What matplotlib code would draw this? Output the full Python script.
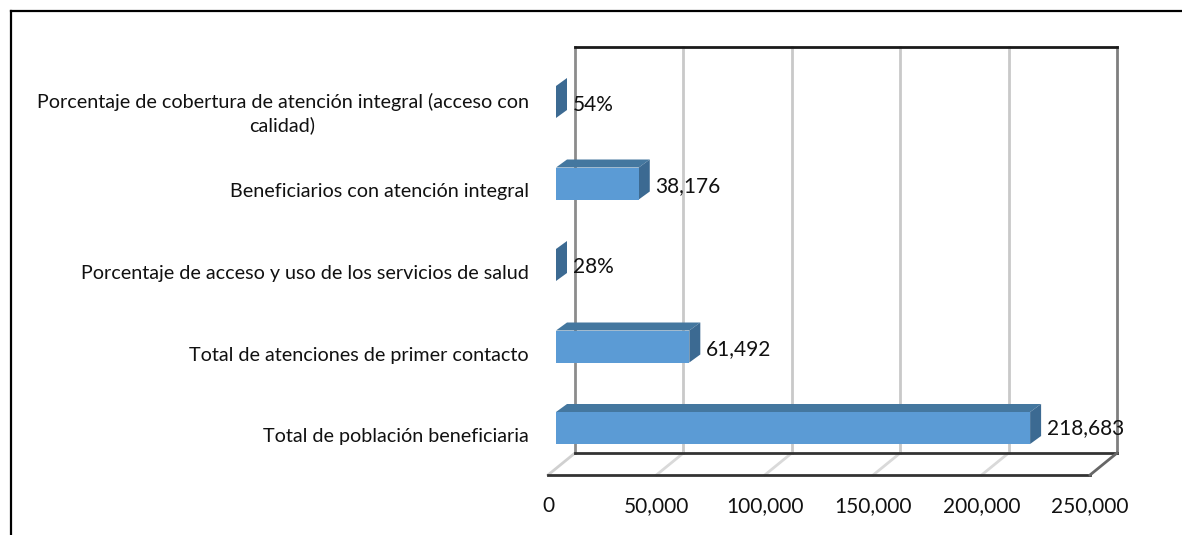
import matplotlib
matplotlib.use('Agg')
import matplotlib.pyplot as plt
from matplotlib.lines import Line2D
from matplotlib.transforms import Affine2D

categories = ['Total de población beneficiaria',
              'Total de atenciones de primer contacto',
              'Porcentaje de acceso y uso de los servicios de salud',
              'Beneficiarios con atención integral',
              'Porcentaje de cobertura de atención integral (acceso con\ncalidad)']
values = [218683, 61492, 0.28, 38176, 0.54]
value_labels = ['218,683', '61,492', '28%', '38,176', '54%']
xticks = [0, 50000, 100000, 150000, 200000, 250000]
xtick_labels = ['0', '50,000', '100,000', '150,000', '200,000', '250,000']

W, H = 1182, 535
# front floor edge in pixels
left_px, right_px = 548, 1090
top_px, bottom_px = 47, 475
first_bar_px = 428
row_px = 81.5

px_x = 250000 / (right_px - left_px)   # value units per pixel
px_y = 1 / row_px                      # category units per pixel

fig = plt.figure(figsize=(W / 100, H / 100), dpi=100)
plt.rcParams['font.family'] = ['Lato', 'DejaVu Sans']
ax = fig.add_axes([left_px / W, 1 - bottom_px / H, (right_px - left_px) / W, (bottom_px - top_px) / H])
ax.set_xlim(0, 250000)
ax.set_ylim(-(bottom_px - first_bar_px) * px_y, (first_bar_px - top_px) * px_y)
ax.patch.set_alpha(0)
for s in ax.spines.values():
    s.set_visible(False)

y0, y1 = ax.get_ylim()
depth_x = 27 * px_x
depth_y = 22 * px_y
back_top = y1
back_bottom = y0 + depth_y

# gridlines on the back wall and floor
for t in xticks[1:-1]:
    ax.plot([t + depth_x, t + depth_x], [back_bottom, back_top], color='#c9c9c9', lw=2, clip_on=False, zorder=1)
    ax.plot([t, t + depth_x], [y0, back_bottom], color='#d9d9d9', lw=2, clip_on=False, zorder=1)
ax.plot([0, depth_x], [y0, back_bottom], color='#d0d0d0', lw=2, clip_on=False, zorder=1)

# walls
ax.plot([depth_x, depth_x], [back_bottom, back_top], color='#8c8c8c', lw=2, clip_on=False, zorder=2)
ax.plot([250000 + depth_x, 250000 + depth_x], [back_bottom, back_top], color='#7f7f7f', lw=2, clip_on=False, zorder=2)
ax.plot([depth_x, 250000 + depth_x], [back_top, back_top], color='#1a1a1a', lw=2, clip_on=False, zorder=2)
ax.plot([depth_x, 250000 + depth_x], [back_bottom, back_bottom], color='#333333', lw=2, clip_on=False, zorder=2)
ax.plot([0, 250000], [y0, y0], color='#333333', lw=2, clip_on=False, zorder=2)
ax.plot([250000, 250000 + depth_x], [y0, back_bottom], color='#666666', lw=2, clip_on=False, zorder=2)

# 3d bars
start = 8 * px_x
bar_h = 32 * px_y
bar_dx = 11 * px_x
bar_dy = 8 * px_y
ypos = list(range(len(values)))
label_dy = [0, -3, -2, -3, -3]
for y, v, lab, dy in zip(ypos, values, value_labels, label_dy):
    a, b = y - bar_h / 2, y + bar_h / 2
    e = start + v
    ax.fill([start, e, e + bar_dx, start + bar_dx], [b, b, b + bar_dy, b + bar_dy],
            color='#44779f', lw=0, clip_on=False, zorder=3)
    ax.fill([e, e + bar_dx, e + bar_dx, e], [a, a + bar_dy, b + bar_dy, b],
            color='#3c6a92', lw=0, clip_on=False, zorder=3)
    ax.barh(y, v, height=bar_h, left=start, color='#5b9bd5', zorder=4)
    ax.annotate(lab, (e, y), xytext=(16.5, dy), textcoords='offset pixels', fontsize=15,
                color='#111111', va='center', ha='left', annotation_clip=False, zorder=5)

ax.set_yticks(ypos)
ax.set_yticklabels(categories, fontsize=14.2, multialignment='center', linespacing=1.35, color='#111111')
ax.set_xticks(xticks)
ax.set_xticklabels(xtick_labels, fontsize=15, color='#111111')
ax.tick_params(axis='both', length=0)
ax.tick_params(axis='x', pad=15)
ax.tick_params(axis='y', pad=14)
# category labels sit a bit below the bar centres
for lb in ax.get_yticklabels():
    lb.set_transform(lb.get_transform() + Affine2D().translate(0, -7))

# outer frame, open at the right and bottom edges of the crop
fig.add_artist(Line2D([10.5 / W, 10.5 / W], [0, 1 - 11 / H], color='black', lw=1.6))
fig.add_artist(Line2D([10.5 / W, 1], [1 - 11 / H, 1 - 11 / H], color='black', lw=1.6))

fig.savefig('out.png', dpi=100)
